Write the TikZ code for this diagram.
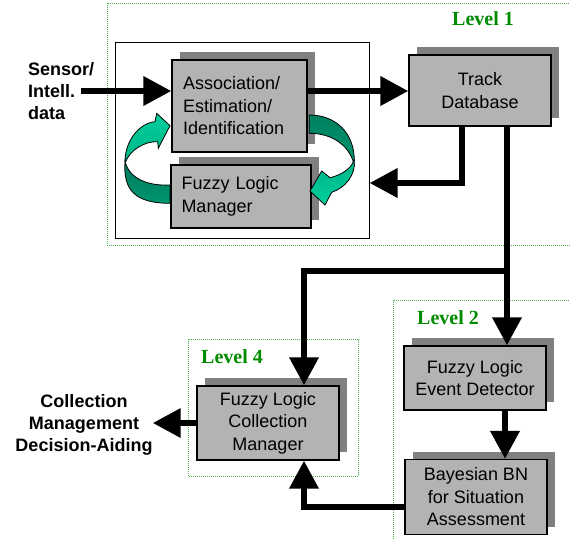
\documentclass[tikz,border=0pt]{standalone}
\usepackage{fontspec}
\setmainfont{Liberation Sans}
\newfontfamily\levelfont{Liberation Serif}
\usepackage{tikz}
\usetikzlibrary{arrows.meta}
\usetikzlibrary{shadows}

\definecolor{boxGray}{RGB}{179,179,179}
\definecolor{shadowGray}{RGB}{128,128,128}
\definecolor{levelGreen}{RGB}{0,140,0}
\definecolor{dotGreen}{RGB}{70,175,70}
\definecolor{tealLight}{RGB}{0,206,155}
\definecolor{tealDark}{RGB}{0,150,112}

\begin{document}
\begin{tikzpicture}[x=1pt, y=-1pt,
	boxStyle/.style={draw, line width=1.2pt, fill=boxGray, minimum width=142pt, align=center, inner sep=0pt, font=\fontsize{18}{22.5}\selectfont, general shadow={fill=shadowGray, shadow xshift=8pt, shadow yshift=8pt}},
	levelStyle/.style={font=\levelfont\bfseries\fontsize{20}{24}\selectfont, text=levelGreen, inner sep=0pt},
	levelBox/.style={draw=dotGreen, line width=0.8pt, dash pattern=on 0.8pt off 1.2pt},
	labelStyle/.style={font=\bfseries\fontsize{18}{22}\selectfont, inner sep=0pt},
	arrowStyle/.style={line width=6.5pt, -{Triangle[length=28pt, width=28pt]}},
	turnStyle/.style={line width=0.8pt, draw=black}]
			\clip (0,0) rectangle (570,539);
			\fill[white] (0,0) rectangle (570,539);

			% Levels
			\draw[levelBox] (107,3) rectangle (580,245);
			\draw[levelBox] (393,300) rectangle (580,545);
			\draw[levelBox] (188,339) rectangle (358,476);
			\node[levelStyle] (level1) at (483,19) {Level 1};
			\node[levelStyle] (level2) at (448,318) {Level 2};
			\node[levelStyle] (level4) at (232,357) {Level 4};

			% Level 1
			\node[draw, line width=1pt, fill=white, minimum width=254pt, minimum height=196pt] (inner) at (242,140) {};
			\node[boxStyle, minimum width=135pt, minimum height=92pt, text width=113pt, align=left] (assoc) at (239.5,106) {Association/\\Estimation/\\Identification};
			\node[boxStyle, minimum width=140pt, minimum height=63pt, text width=119pt, align=left] (manager) at (241,196.5) {Fuzzy Logic\\Manager};
			\node[boxStyle, minimum height=71pt] (track) at (480,90.5) {Track\\Database};

			% Level 2
			\node[boxStyle, minimum height=64pt] (event) at (475,378) {Fuzzy Logic\\Event Detector};
			\node[boxStyle, minimum height=75pt] (bayes) at (476,497) {Bayesian BN\\for Situation\\Assessment};

			% Level 4
			\node[boxStyle, minimum height=74pt] (collect) at (268,423) {Fuzzy Logic\\Collection\\Manager};

			% Outside
			\node[labelStyle, align=left, anchor=west] (sensor) at (28,91) {Sensor/\\Intell.\\data};
			\node[labelStyle, align=center] (decision) at (84,425) {Collection\\Management\\Decision-Aiding};

			\coordinate (split) at (507,271);

			\draw[arrowStyle] ([xshift=-13pt]sensor.east) -- (assoc.west |- sensor.east);
			\draw[arrowStyle] (assoc.east |- sensor.east) -- (track.west |- sensor.east);
			\draw[arrowStyle] ([xshift=-18pt]track.south) |- ([yshift=-43pt]inner.east);
			\draw[arrowStyle] ([xshift=27pt]track.south) -- ([xshift=27pt]track.south |- event.north);
			\draw[arrowStyle] (split) -| ([xshift=36pt]collect.north);
			\draw[arrowStyle] ([xshift=30pt]event.south) -- ([xshift=30pt]event.south |- bayes.north);
			\draw[arrowStyle] ([yshift=-10pt]bayes.west) -| ([xshift=36pt]collect.south);
			\draw[arrowStyle] (collect.west) -- (decision.east |- collect.west);

			% Turning arrows
			\shadedraw[turnStyle, top color=tealDark!80!black, bottom color=tealDark] (125,161.7) .. controls (123,190) and (135,203.3) .. (170,203.3) -- (170,185) .. controls (150,186) and (130,180) .. (125,161.7) -- cycle;
			\shadedraw[turnStyle, top color=tealLight, bottom color=tealLight!88!black] (125,161.7) .. controls (125,140) and (140,123) .. (155,121.7) -- (156.7,113.3) -- (170,125.7) -- (158.3,148.3) -- (157.7,141.7) .. controls (145,141) and (130,150) .. (125.7,161.7) -- cycle;
			\shadedraw[turnStyle, top color=tealDark!85!black, bottom color=tealDark] (309.3,115) .. controls (335,115) and (354,132) .. (354.3,160) -- (353.3,161.7) .. controls (348,145) and (332,133.3) .. (309.3,133.3) -- cycle;
			\shadedraw[turnStyle, top color=tealLight!88!black, bottom color=tealLight] (354.3,160) .. controls (356,175) and (345,188) .. (331.7,192.3) -- (325,205) -- (310,191) -- (321.7,171) -- (330,177.7) .. controls (342,175) and (351,168) .. (353.3,161.7) -- cycle;

		\end{tikzpicture}
\end{document}
